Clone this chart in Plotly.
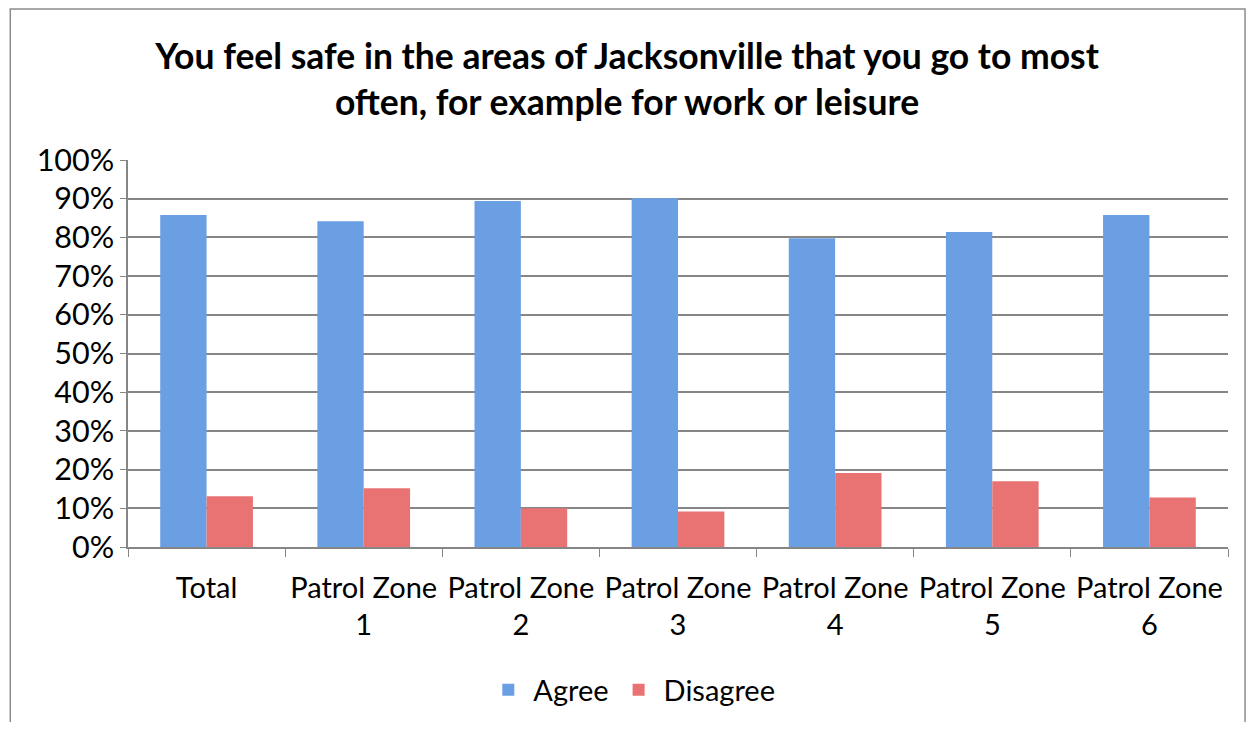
import plotly.graph_objects as go

# survey results
zones = ["Total", "Patrol Zone<br>1", "Patrol Zone<br>2", "Patrol Zone<br>3",
         "Patrol Zone<br>4", "Patrol Zone<br>5", "Patrol Zone<br>6"]
agree = [0.858, 0.842, 0.894, 0.901, 0.798, 0.814, 0.858]
disagree = [0.131, 0.152, 0.100, 0.092, 0.191, 0.170, 0.128]

font_family = "Lato, Carlito, Calibri, sans-serif"

fig = go.Figure()
fig.add_trace(go.Bar(
    x=zones, y=agree, name="Agree",
    marker=dict(color="#6a9fe4", line=dict(width=0)),
))
fig.add_trace(go.Bar(
    x=zones, y=disagree, name="Disagree",
    marker=dict(color="#e97372", line=dict(width=0)),
))

# page body has an 8px margin, so the figure is a bit smaller than the window
fig.update_layout(
    width=1238, height=714,
    barmode="group", bargap=0.41, bargroupgap=0,
    plot_bgcolor="white", paper_bgcolor="white",
    font=dict(family=font_family, size=29, color="black"),
    title=dict(
        text="<b>You feel safe in the areas of Jacksonville that you go to most<br>often, for example for work or leisure</b>",
        x=0.5, xanchor="center", y=0.915, yanchor="top",
        font=dict(size=35.5, family=font_family),
    ),
    margin=dict(l=120, r=18, t=152, b=175),
    legend=dict(orientation="h", x=0.458, xanchor="center",
                yref="container", y=0.045, yanchor="middle",
                font=dict(size=29), itemwidth=40),
    shapes=[dict(type="rect", xref="paper", yref="paper",
                 x0=-0.107, x1=1.0155, y0=-0.5, y1=1.39,
                 line=dict(color="#8c8c8c", width=1.5))],
)
fig.update_yaxes(
    range=[0, 1], dtick=0.1, tickformat=".0%",
    showgrid=True, gridcolor="#868686", gridwidth=1.5,
    showline=True, linecolor="#868686", linewidth=1.5,
    ticks="outside", ticklen=6, tickcolor="#868686",
    zeroline=False, tickfont=dict(size=30.5),
)
fig.update_xaxes(
    showline=True, linecolor="#868686", linewidth=1.5,
    ticks="outside", tickson="boundaries", ticklen=8, tickcolor="#868686",
    ticklabelstandoff=14,
)

fig.write_html("out.html")
